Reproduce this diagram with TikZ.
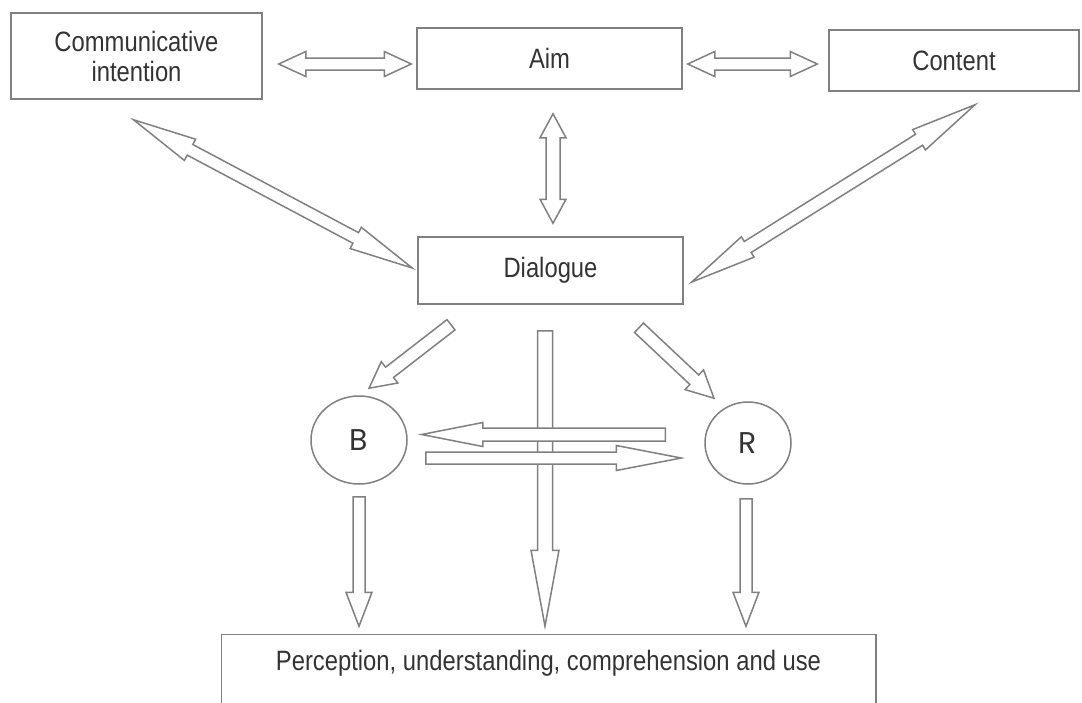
\documentclass[tikz,border=0pt]{standalone}
\usepackage{fontspec}
\setmainfont{Liberation Sans}[FakeStretch=0.85]
\newfontfamily\circfont{Poppins}
\usetikzlibrary{calc,shapes.geometric}

\begin{document}
\begin{tikzpicture}[x=1pt,y=-1pt,line join=miter]
\useasboundingbox (0,0) rectangle (1082,702);
\definecolor{custcol_80_80_80}{RGB}{128, 128, 128}
\definecolor{custcol_33_33_33}{RGB}{51, 51, 51}
\tikzset{
  box/.style={draw=custcol_80_80_80, line width=1.5pt, text=custcol_33_33_33, inner sep=0, align=center, font=\fontsize{28pt}{30pt}\selectfont},
  circ/.style={box, ellipse, font=\circfont\fontsize{30pt}{32pt}\selectfont},
  arr/.style={draw=custcol_80_80_80, fill=white, line width=1.5pt}
}
% hollow block arrows: from, to, shaft half width, head half width, head length
\def\sarrow#1#2#3#4#5{\draw[arr] let \p1=#1, \p2=#2, \n1={atan2(\y2-\y1,\x2-\x1)}, \n2={veclen(\x2-\x1,\y2-\y1)} in
  [shift={(\p1)}, rotate=\n1] (0,#3) -- (\n2-#5,#3) -- (\n2-#5,#4) -- (\n2,0) -- (\n2-#5,-#4) -- (\n2-#5,-#3) -- (0,-#3) -- cycle;}
\def\darrow#1#2#3#4#5{\draw[arr] let \p1=#1, \p2=#2, \n1={atan2(\y2-\y1,\x2-\x1)}, \n2={veclen(\x2-\x1,\y2-\y1)} in
  [shift={(\p1)}, rotate=\n1] (#5,#3) -- (\n2-#5,#3) -- (\n2-#5,#4) -- (\n2,0) -- (\n2-#5,-#4) -- (\n2-#5,-#3) -- (#5,-#3) -- (#5,-#4) -- (0,0) -- (#5,#4) -- cycle;}
\node[box, minimum width=251pt, minimum height=86pt] (ci) at (136.5,56) {Communicative\\intention};
\node[box, minimum width=265pt, minimum height=61pt] (aim) at (549.5,58.5) {Aim};
\node[box, minimum width=250pt, minimum height=61pt] (content) at (954,60.5) {Content};
\node[box, minimum width=265pt, minimum height=67pt] (dialogue) at (550.5,270.5) {Dialogue};
\node[circ, minimum width=96pt, minimum height=88pt] (b) at (359,440) {B};
\node[circ, minimum width=86pt, minimum height=82pt] (r) at (748,443) {R};
\node[box, draw=none, minimum width=653pt, minimum height=56pt] (use) at (548.5,663) {Perception, understanding, comprehension and use};
\draw[arr, fill=none] ([yshift=-14pt]use.south west) -- (use.north west) -- (use.north east) -- ([yshift=-14pt]use.south east);
\darrow{($(ci.east)+(16,8)$)}{($(aim.west)+(-5,5.5)$)}{6}{12.5}{27}
\darrow{($(aim.east)+(5,5.5)$)}{($(content.west)+(-11,3.5)$)}{6}{12.5}{27}
\darrow{($(aim.south)+(3.5,24)$)}{($(dialogue.north)+(2.5,-13)$)}{7}{13}{24}
\darrow{($(ci.south)+(-3,20)$)}{($(dialogue.west)+(-5,-2.5)$)}{6}{12}{64}
\darrow{($(content.south)+(21,13)$)}{($(dialogue.east)+(8,11.5)$)}{6.5}{12}{66}
\sarrow{($(dialogue.south)+(-99.5,20)$)}{($(b.north)+(10,-7)$)}{6.5}{13.5}{26}
\sarrow{($(dialogue.south)+(88.5,23)$)}{($(r.north)+(-34,-3)$)}{6.5}{13.5}{27}
\sarrow{($(dialogue.south)+(-5.5,26)$)}{($(use.north)+(-3.5,-8)$)}{7.5}{14}{76}
\sarrow{($(r.west)+(-39,-8.5)$)}{($(b.east)+(14,-5.5)$)}{6.5}{12}{61}
\sarrow{($(b.east)+(18,18)$)}{($(r.west)+(-23,15)$)}{6}{12.5}{65}
\sarrow{($(b.south)+(0,12)$)}{($(use.north)+(-189.5,-8)$)}{6}{13}{34}
\sarrow{($(r.south)+(-2,14)$)}{($(use.north)+(197.5,-8)$)}{6}{13}{34}
\end{tikzpicture}
\end{document}
